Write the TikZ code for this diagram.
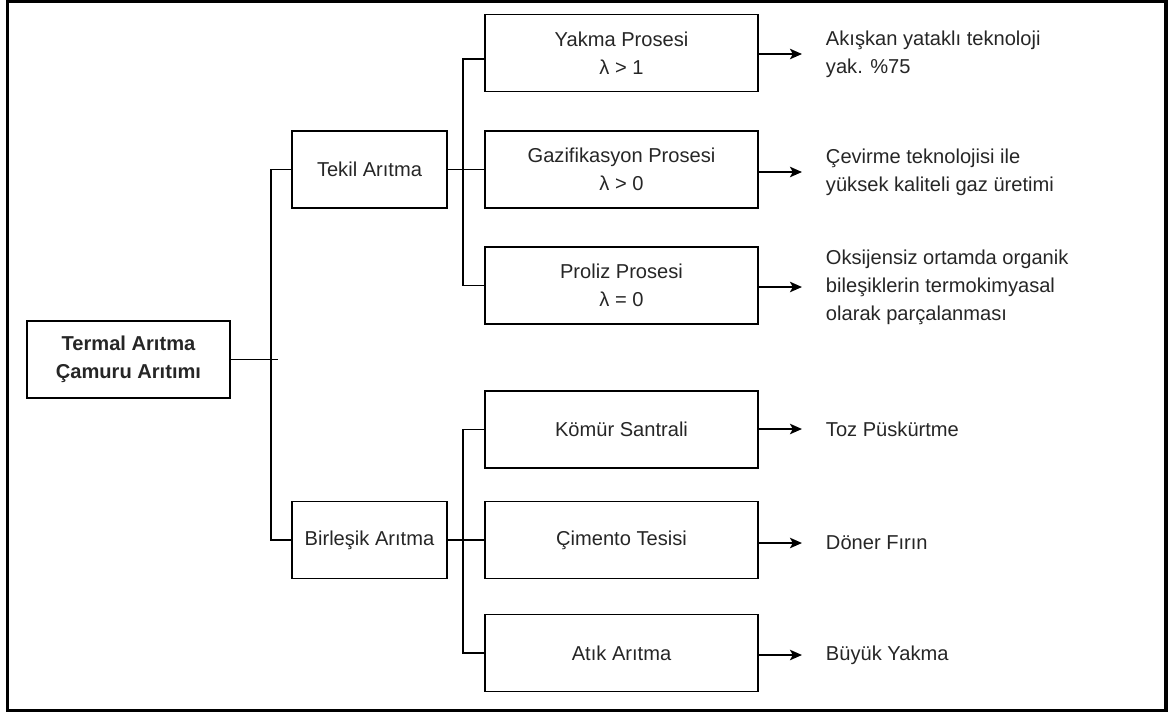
\documentclass[tikz,border=0pt]{standalone}
\usepackage{fontspec}
\setmainfont{Liberation Sans}
\usetikzlibrary{shapes, arrows.meta}

\begin{document}
\begin{tikzpicture}[
						every node/.style={rectangle, draw, line width=1.4pt, minimum height=1.925cm, align=center, text=black!85,
							font=\fontsize{14.3}{19.9}\selectfont},
						every path/.style={>={Stealth[length=3mm, width=2.6mm, inset=0.7mm]}, line width=1.4pt},
						box/.style={minimum width=3.875cm},
						wide/.style={minimum width=6.825cm},
						note/.style={draw=none, anchor=west, align=left, inner xsep=0.575cm, minimum height=0pt}]
					\useasboundingbox (0,0) rectangle (29.2,-17.825);
					\draw [line width=2.2pt] (0.1825,-0.0325) rectangle (29.15,-17.7625);

					\node [minimum width=5.075cm, font=\fontsize{14.3}{19.9}\selectfont\bfseries] (R) at (3.2125,-8.9875) {Termal Arıtma\\Çamuru Arıtımı};
					\node [box] (T) at (9.2375,-4.2375) {Tekil Arıtma};
					\node [box] (B) at (9.2375,-13.5) {Birleşik Arıtma};

					\node [wide] (Y) at (15.5375,-1.325) {Yakma Prosesi\\λ > 1};
					\node [wide] (G) at (15.5375,-4.2375) {Gazifikasyon Prosesi\\λ > 0};
					\node [wide] (P) at (15.5375,-7.1375) {Proliz Prosesi\\λ = 0};
					\node [wide] (K) at (15.5375,-10.7375) {Kömür Santrali};
					\node [wide] (C) at (15.5375,-13.5) {Çimento Tesisi};
					\node [wide] (A) at (15.5375,-16.325) {Atık Arıtma};

					\node [note] (Ya) at (20.05,-1.35) {Akışkan yataklı teknoloji\\yak. \%75};
					\node [note] (Ga) at (20.05,-4.3) {Çevirme teknolojisi ile\\yüksek kaliteli gaz üretimi};
					\node [note] (Pa) at (20.05,-7.175) {Oksijensiz ortamda organik\\bileşiklerin termokimyasal\\olarak parçalanması};
					\node [note] (Ka) at (20.05,-10.725) {Toz Püskürtme};
					\node [note] (Ca) at (20.05,-13.575) {Döner Fırın};
					\node [note] (Aa) at (20.05,-16.375) {Büyük Yakma};

					\draw (R.east) -- +(1.175,0);
					\draw (T.west) -- +(-0.5,0) |- (B.west);

					\draw (T.east) -- (G.west);
					\draw ([yshift=-1.5mm]Y.west) -- +(-0.525,0) |- (P.west);
					\draw (B.east) -- (C.west);
					\draw (K.west) -- +(-0.525,0) |- (A.west);

					\draw [->] (Ya.west -| Y.east) -- (Ya.west);
					\draw [->] (Ga.west -| G.east) -- (Ga.west);
					\draw [->] (Pa.west -| P.east) -- (Pa.west);
					\draw [->] (Ka.west -| K.east) -- (Ka.west);
					\draw [->] (Ca.west -| C.east) -- (Ca.west);
					\draw [->] (Aa.west -| A.east) -- (Aa.west);
				\end{tikzpicture}
\end{document}
